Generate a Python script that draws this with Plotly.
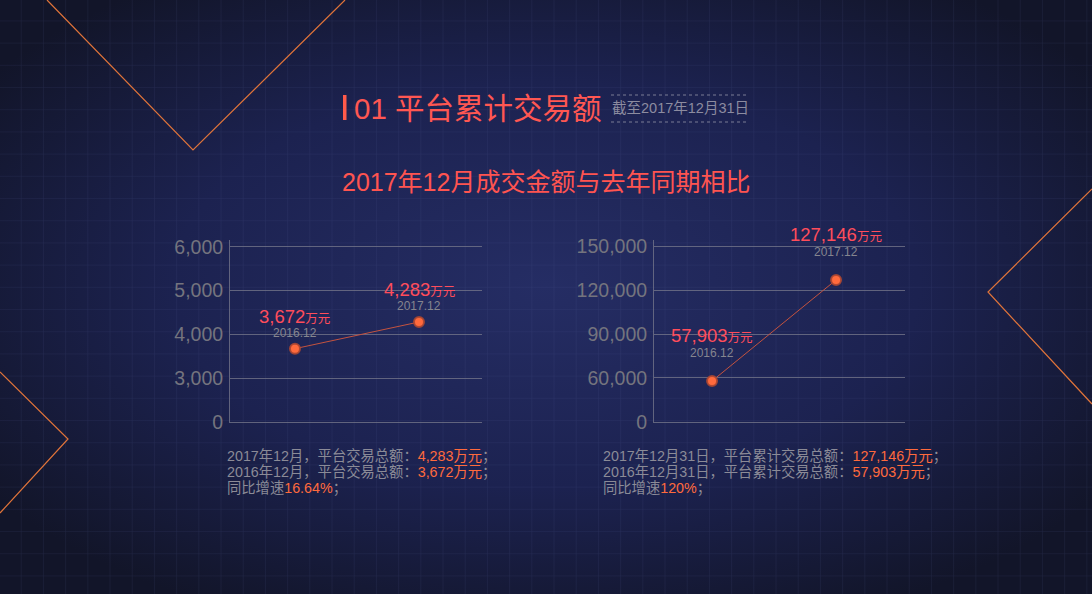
import base64
import plotly.graph_objects as go

# ---------------- data ----------------
periods = ["2016.12", "2017.12"]
monthly_values = [3672, 4283]          # 万元, monthly transaction volume
cumulative_values = [57903, 127146]    # 万元, cumulative platform volume
monthly_growth = "16.64%"
cumulative_growth = "120%"

left_tickvals = [2000, 3000, 4000, 5000, 6000]
left_ticktext = ["0", "3,000", "4,000", "5,000", "6,000"]
right_tickvals = [30000, 60000, 90000, 120000, 150000]
right_ticktext = ["0", "60,000", "90,000", "120,000", "150,000"]

title_main = "01 平台累计交易额"
title_note = "截至2017年12月31日"
subtitle = "2017年12月成交金额与去年同期相比"

left_lines = [
    ("2017年12月，平台交易总额：", "4,283万元", "；"),
    ("2016年12月，平台交易总额：", "3,672万元", "；"),
    ("同比增速", monthly_growth, "；"),
]
right_lines = [
    ("2017年12月31日，平台累计交易总额：", "127,146万元", "；"),
    ("2016年12月31日，平台累计交易总额：", "57,903万元", "；"),
    ("同比增速", cumulative_growth, "；"),
]

# ---------------- style ----------------
W, H = 1092, 594
FONT = "Liberation Sans, Noto Sans CJK SC, sans-serif"
RED = "#ff4d5b"
ORANGE = "#ff6a3d"
GREY_TXT = "#8b8b97"
TICK_GREY = "#74747e"
GRID_GREY = "rgba(120,122,140,0.75)"

def px(xp):
    return xp / W

def py(yp):
    return 1 - yp / H

# background: radial gradient + faint grid (SVG)
svg = f'''<svg xmlns="http://www.w3.org/2000/svg" width="{W}" height="{H}" viewBox="0 0 {W} {H}">
<defs>
<radialGradient id="g" cx="50%" cy="48%" r="62%" gradientUnits="objectBoundingBox">
<stop offset="0%" stop-color="#252d64"/>
<stop offset="55%" stop-color="#1c2250"/>
<stop offset="100%" stop-color="#121529"/>
</radialGradient>
<pattern id="p" x="-0.5" y="-0.8" width="22.2" height="22.2" patternUnits="userSpaceOnUse">
<path d="M 22.2 0 L 22.2 22.2 M 0 22.2 L 22.2 22.2" fill="none" stroke="rgba(90,100,160,0.2)" stroke-width="1"/>
</pattern>
</defs>
<rect width="{W}" height="{H}" fill="url(#g)"/>
<rect width="{W}" height="{H}" fill="url(#p)"/>
</svg>'''
bg_src = "data:image/svg+xml;base64," + base64.b64encode(svg.encode()).decode()

fig = go.Figure()

marker_style = dict(size=10, color=ORANGE, line=dict(color="rgba(170,70,50,0.9)", width=2))
line_style = dict(color="#c4533f", width=1)

fig.add_trace(go.Scatter(x=[0, 1], y=monthly_values, mode="lines+markers",
                         marker=marker_style, line=line_style, xaxis="x", yaxis="y",
                         hoverinfo="skip", showlegend=False))
fig.add_trace(go.Scatter(x=[0, 1], y=cumulative_values, mode="lines+markers",
                         marker=marker_style, line=line_style, xaxis="x2", yaxis="y2",
                         hoverinfo="skip", showlegend=False))

ydom = [py(421.7), py(240)]
axis_common = dict(showline=True, linecolor=GRID_GREY, linewidth=1, zeroline=False,
                   automargin=False)

fig.update_layout(
    width=W, height=H,
    margin=dict(l=0, r=0, t=0, b=0, pad=0, autoexpand=False),
    paper_bgcolor="#1a1f45",
    plot_bgcolor="rgba(0,0,0,0)",
    font=dict(family=FONT),
    showlegend=False,
    xaxis=dict(domain=[px(230), px(482)], range=[-0.524, 1.508], showgrid=False,
               showticklabels=False, ticks="", anchor="y", **axis_common),
    yaxis=dict(domain=ydom, range=[2000, 6160], tickvals=left_tickvals, ticktext=left_ticktext,
               showgrid=True, gridcolor=GRID_GREY, gridwidth=1, ticks="",
               tickfont=dict(size=19.5, color=TICK_GREY, family=FONT),
               ticklabelstandoff=2, anchor="x", **axis_common),
    xaxis2=dict(domain=[px(654), px(905)], range=[-0.468, 1.556], showgrid=False,
                showticklabels=False, ticks="", anchor="y2", **axis_common),
    yaxis2=dict(domain=ydom, range=[30000, 154500], tickvals=right_tickvals, ticktext=right_ticktext,
                showgrid=True, gridcolor=GRID_GREY, gridwidth=1, ticks="",
                tickfont=dict(size=19.5, color=TICK_GREY, family=FONT),
                ticklabelstandoff=2, anchor="x2", **axis_common),
    images=[dict(source=bg_src, xref="paper", yref="paper", x=0, y=1, sizex=1, sizey=1,
                 xanchor="left", yanchor="top", sizing="stretch", layer="below")],
)

shapes = []
# decorative orange lines
deco = dict(type="path", xref="paper", yref="paper", line=dict(color="#e0743a", width=1.2))
def path(points):
    return "M " + " L ".join(f"{px(a):.5f},{py(b):.5f}" for a, b in points)
shapes.append(dict(deco, path=path([(47, 0), (193, 150), (345, 0)])))
shapes.append(dict(deco, path=path([(1092, 189), (988, 292), (1092, 404)])))
shapes.append(dict(deco, path=path([(0, 372), (68, 439), (0, 513)])))
# title bar
shapes.append(dict(type="rect", xref="paper", yref="paper", x0=px(343), x1=px(346.5),
                   y0=py(120), y1=py(95), fillcolor="#ff5a4a", line=dict(width=0)))
# dotted lines around date note
for yy in (95, 122):
    shapes.append(dict(type="line", xref="paper", yref="paper", x0=px(611), x1=px(749),
                       y0=py(yy), y1=py(yy), line=dict(color="#7a7d95", width=1, dash="dot")))
fig.update_layout(shapes=shapes)

ann = []
ann.append(dict(text=title_main, x=px(352), y=py(108), xref="paper", yref="paper",
                xanchor="left", yanchor="middle", showarrow=False,
                font=dict(size=29.5, color="#ff5752", family=FONT)))
ann.append(dict(text=title_note, x=px(610), y=py(108.5), xref="paper", yref="paper",
                xanchor="left", yanchor="middle", showarrow=False,
                font=dict(size=14.5, color="#8c8ca0", family=FONT)))
ann.append(dict(text=subtitle, x=0.5, y=py(182), xref="paper", yref="paper",
                xanchor="center", yanchor="middle", showarrow=False,
                font=dict(size=25, color="#ff5450", family=FONT)))

def fmt(v):
    return f"{v:,}"

# point labels (value above, period below it)
for xa, ya, vals, shifts in (("x", "y", monthly_values, (32, 16)),
                             ("x2", "y2", cumulative_values, (45, 28))):
    for i, v in enumerate(vals):
        ann.append(dict(text=f"{fmt(v)}<span style='font-size:12.5px'>万元</span>",
                        x=i, y=v, xref=xa, yref=ya, showarrow=False,
                        xanchor="center", yanchor="middle", yshift=shifts[0],
                        font=dict(size=18.5, color=RED, family=FONT)))
        ann.append(dict(text=periods[i], x=i, y=v, xref=xa, yref=ya, showarrow=False,
                        xanchor="center", yanchor="middle", yshift=shifts[1],
                        font=dict(size=12, color="#85858f", family=FONT)))

# summary text
for x0, lines in ((227, left_lines), (603, right_lines)):
    for k, (a, b, c) in enumerate(lines):
        ann.append(dict(text=f"{a}<span style='color:{ORANGE}'>{b}</span>{c}",
                        x=px(x0 - 2), y=py(456 + 16.3 * k), xref="paper", yref="paper",
                        xanchor="left", yanchor="middle", showarrow=False,
                        font=dict(size=14.3, color=GREY_TXT, family=FONT)))

fig.update_layout(annotations=ann)
fig.write_html("out.html", config={"displayModeBar": False},
               post_script="document.body.style.margin='0';document.body.style.background='#121529';")
